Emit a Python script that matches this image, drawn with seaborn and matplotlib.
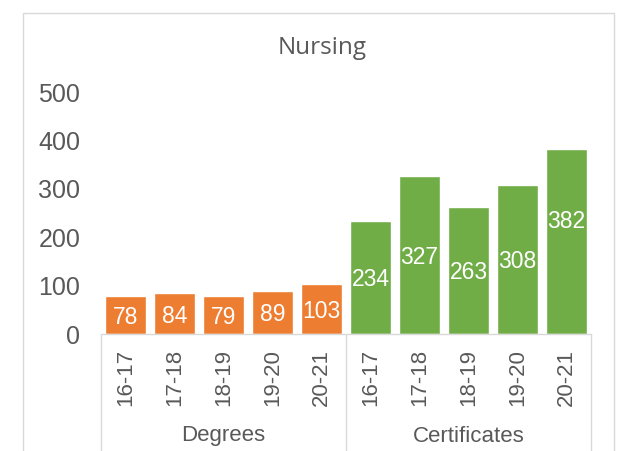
import numpy as np
import pandas as pd
import seaborn as sns
import matplotlib.pyplot as plt

# values
groups = ["Degrees", "Certificates"]
years = ["16-17", "17-18", "18-19", "19-20", "20-21"]
degrees = [78, 84, 79, 89, 103]
certificates = [234, 327, 263, 308, 382]
# where the label sits, as a share of the bar height (382 is pushed up a bit)
label_frac = [0.5, 0.5, 0.5, 0.5, 0.5, 0.5, 0.5, 0.5, 0.5, 0.62]

colors = {"Degrees": "#ED7D31", "Certificates": "#70AD47"}
grey = "#595959"
line = "#D9D9D9"

df = pd.DataFrame({
    "group": [g for g in groups for _ in years],
    "year": years * 2,
    "value": degrees + certificates,
})
df["slot"] = df["group"] + " " + df["year"]

sns.set_style("white")
plt.rcParams["font.family"] = ["Liberation Sans", "DejaVu Sans"]

W, H = 618, 451
fig = plt.figure(figsize=(W / 100, H / 100), dpi=100)
# axes placed in pixels: plot area 101..591 wide, 92..334 tall
ax = fig.add_axes([101 / W, 1 - 334 / H, 490 / W, (334 - 92) / H])

sns.barplot(data=df, x="slot", y="value", hue="group", palette=colors,
            dodge=False, width=0.84, saturation=1, legend=False, ax=ax)

ax.set_ylim(0, 500)
ax.set_yticks(np.arange(0, 501, 100))
ax.set_xlim(-0.5, len(df) - 0.5)
ax.set_xlabel("")
ax.set_ylabel("")
ax.set_xticks(range(len(df)))
ax.set_xticklabels(df["year"], rotation=90, fontsize=16, color=grey)
ax.tick_params(axis="x", length=0, pad=11)
ax.tick_params(axis="y", length=0, pad=15, labelsize=18, labelcolor=grey)

for s in ["top", "right", "left"]:
    ax.spines[s].set_visible(False)
ax.spines["bottom"].set_color(line)
ax.spines["bottom"].set_linewidth(1)

# data labels in white inside the bars
for i, (v, f) in enumerate(zip(df["value"], label_frac)):
    ax.text(i, v * f, str(v), ha="center", va="center_baseline", color="white",
            fontsize=16.5)

# group separators and group names under the category labels
tr = ax.get_xaxis_transform()
drop = -(H - 334) / (334 - 92) - 0.05
for xpos in [-0.5, 4.5, 9.5]:
    ax.plot([xpos, xpos], [0, drop], color=line, lw=1, transform=tr, clip_on=False)
for k, g in enumerate(groups):
    ax.text(2 + 5 * k, -(436 - 334) / (334 - 92), g, transform=tr,
            ha="center", va="center", fontsize=16, color=grey)

fig.suptitle("Nursing", x=322 / W, y=1 - 48 / H, va="center", fontsize=17.5,
             color=grey, family=["Open Sans", "DejaVu Sans"])

# light chart border like the spreadsheet frame
fig.patches.append(plt.Rectangle((23 / W, -0.05), (614 - 23) / W, 1.05 - 13 / H,
                                 transform=fig.transFigure, fill=False,
                                 edgecolor=line, lw=1))

fig.savefig("out.png", dpi=100)
